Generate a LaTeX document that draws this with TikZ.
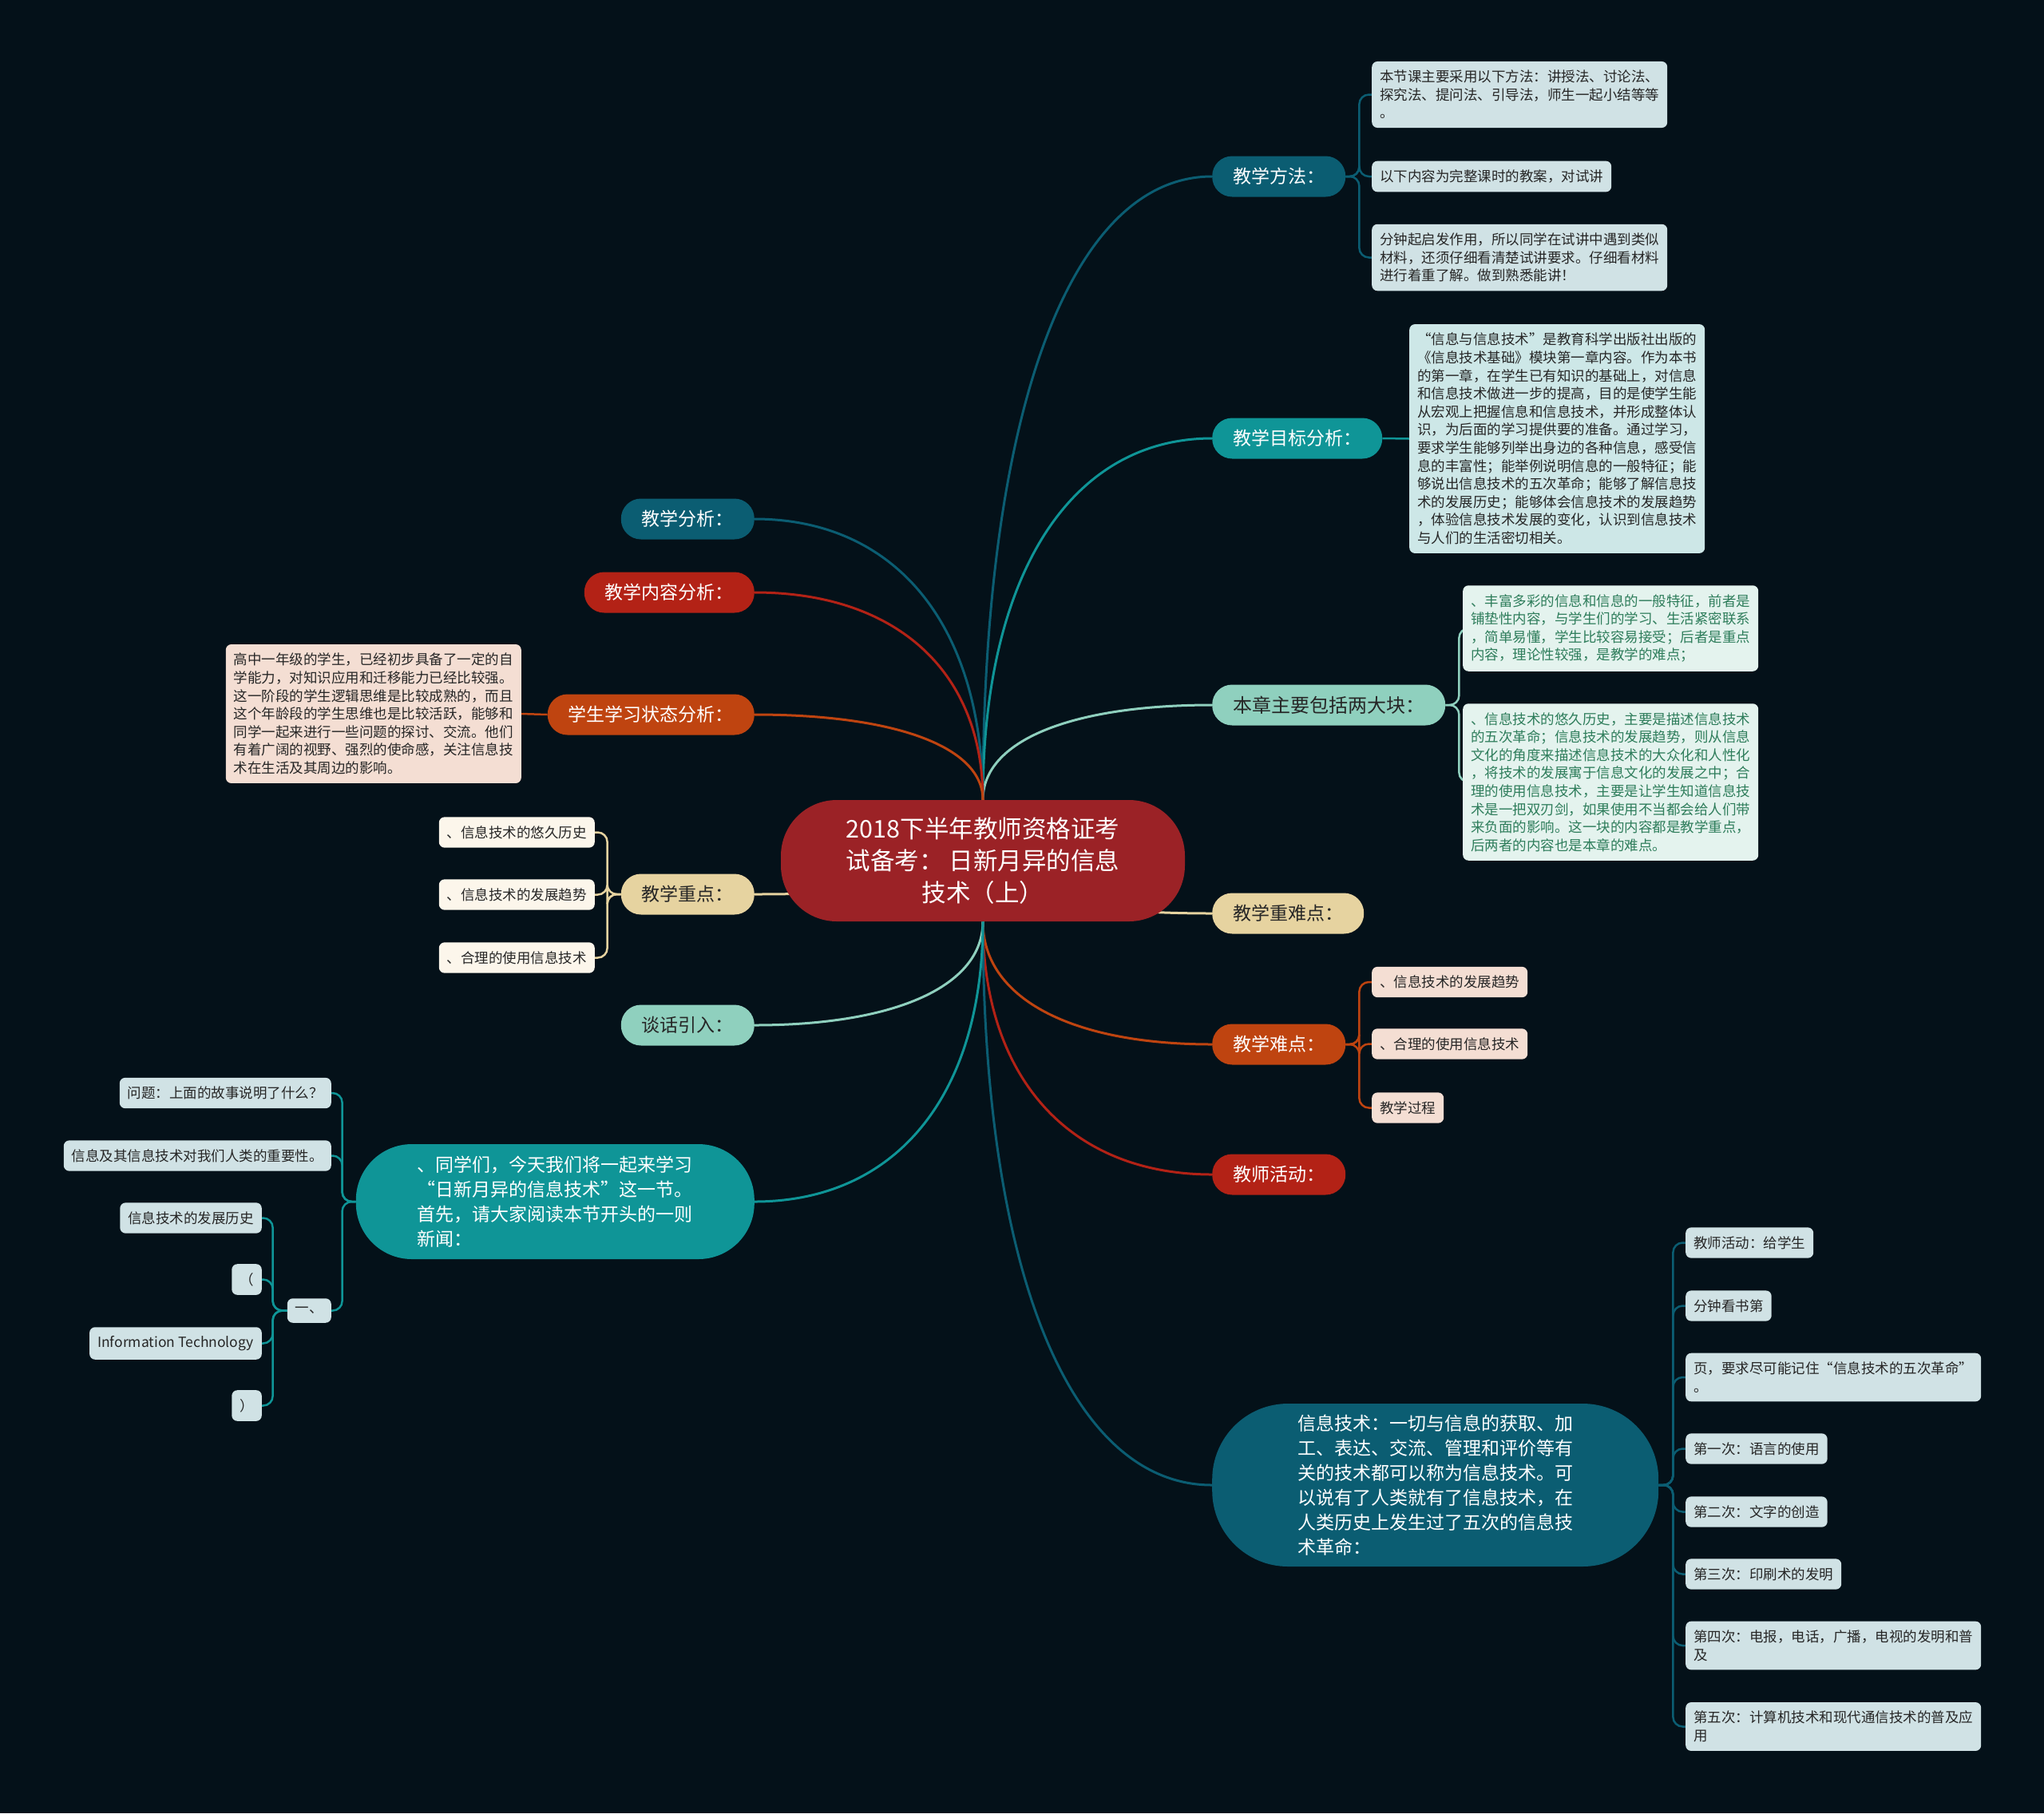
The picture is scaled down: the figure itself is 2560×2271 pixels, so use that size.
\documentclass[tikz,border=0pt]{standalone}
\usepackage{fontspec}
\usepackage{xcolor}
\usepackage{tikz}
\usetikzlibrary{calc,positioning,backgrounds}
\newfontfamily\cjk{Noto Sans CJK SC}
\definecolor{bgdark}{HTML}{041119}
\definecolor{rootred}{HTML}{9B2226}
\definecolor{deepteal}{HTML}{0B5D72}
\definecolor{midteal}{HTML}{0F9597}
\definecolor{mint}{HTML}{8FD0BE}
\definecolor{sand}{HTML}{E6D3A0}
\definecolor{rust}{HTML}{BF4410}
\definecolor{brick}{HTML}{B32216}
\definecolor{leafblue}{HTML}{D0E2E5}
\definecolor{leafcyan}{HTML}{CDE7E7}
\definecolor{leafmint}{HTML}{E4F3EE}
\definecolor{leafgreen}{HTML}{2E7D5B}
\definecolor{leafpeach}{HTML}{F4DED3}
\definecolor{leafcream}{HTML}{FCF6EB}
\definecolor{inkdark}{HTML}{262626}
\tikzset{
  topic/.style={rounded corners=25pt, minimum height=51pt, inner xsep=26pt, inner ysep=0pt,
    text=white, font=\cjk\fontsize{23}{31}\selectfont},
  leaf/.style={rounded corners=7pt, inner xsep=10pt, inner ysep=11pt, align=left,
    text=inkdark, font=\cjk\fontsize{17.5}{22.6}\selectfont},
  link/.style={line width=3pt},
  sublink/.style={line width=2.5pt, rounded corners=12pt},
}

\begin{document}
\begin{tikzpicture}[x=1pt,y=-1pt]
  \begin{scope}[on background layer]
    \fill[bgdark] (0,0) rectangle (2560,2271);
  \end{scope}
  \useasboundingbox (0,0) rectangle (2560,2271);

  % root
  \node[fill=rootred, rounded corners=70pt, minimum width=506pt, minimum height=152pt,
        align=center, text=white, font=\cjk\fontsize{30.5}{40}\selectfont] (root) at (1231,1078)
        {2018下半年教师资格证考\\试备考： 日新月异的信息\\技术（上）};

  % right topics
  \node[topic, fill=deepteal, anchor=west] (method) at (1518,221) {教学方法：};
  \node[topic, fill=midteal, anchor=west] (goal) at (1518,549) {教学目标分析：};
  \node[topic, fill=mint, text=inkdark, anchor=west, font=\cjk\fontsize{24}{31}\selectfont]
        (chapter) at (1518,883) {本章主要包括两大块：};
  \node[topic, fill=sand, text=inkdark, anchor=west] (keyhard) at (1518,1144) {教学重难点：};
  \node[topic, fill=rust, anchor=west] (hard) at (1518,1308) {教学难点：};
  \node[topic, fill=brick, anchor=west] (act) at (1518,1471) {教师活动：};
  \node[topic, fill=deepteal, anchor=west, rounded corners=95pt, minimum width=559pt,
        minimum height=204pt, align=left] (itdef) at (1518,1860)
        {信息技术：一切与信息的获取、加\\工、表达、交流、管理和评价等有\\关的技术都可以称为信息技术。可\\以说有了人类就有了信息技术，在\\人类历史上发生过了五次的信息技\\术革命：};

  % left topics
  \node[topic, fill=deepteal, anchor=east] (analysis) at (945,650) {教学分析：};
  \node[topic, fill=brick, anchor=east] (content) at (945,742) {教学内容分析：};
  \node[topic, fill=rust, anchor=east] (state) at (945,895) {学生学习状态分析：};
  \node[topic, fill=sand, text=inkdark, anchor=east] (key) at (945,1120) {教学重点：};
  \node[topic, fill=mint, text=inkdark, anchor=east] (talk) at (945,1284) {谈话引入：};
  \node[topic, fill=midteal, anchor=east, rounded corners=70pt, minimum width=499pt,
        minimum height=144pt, align=left] (intro) at (945,1505)
        {、同学们，今天我们将一起来学习\\“日新月异的信息技术”这一节。\\首先，请大家阅读本节开头的一则\\新闻：};

  % leaves, right
  \node[leaf, fill=leafblue, anchor=west] (method1) at (1718,118.5)
        {本节课主要采用以下方法：讲授法、讨论法、\\探究法、提问法、引导法，师生一起小结等等\\。};
  \node[leaf, fill=leafblue, anchor=west] (method2) at (1718,221) {以下内容为完整课时的教案，对试讲};
  \node[leaf, fill=leafblue, anchor=west] (method3) at (1718,322.5)
        {分钟起启发作用，所以同学在试讲中遇到类似\\材料，还须仔细看清楚试讲要求。仔细看材料\\进行着重了解。做到熟悉能讲！};
  \node[leaf, fill=leafcyan, anchor=west] (goal1) at (1765,549.5)
        {“信息与信息技术”是教育科学出版社出版的\\《信息技术基础》模块第一章内容。作为本书\\的第一章，在学生已有知识的基础上，对信息\\和信息技术做进一步的提高，目的是使学生能\\从宏观上把握信息和信息技术，并形成整体认\\识，为后面的学习提供要的准备。通过学习，\\要求学生能够列举出身边的各种信息，感受信\\息的丰富性；能举例说明信息的一般特征；能\\够说出信息技术的五次革命；能够了解信息技\\术的发展历史；能够体会信息技术的发展趋势\\，体验信息技术发展的变化，认识到信息技术\\与人们的生活密切相关。};
  \node[leaf, fill=leafmint, text=leafgreen, anchor=west] (chapter1) at (1832,787)
        {、丰富多彩的信息和信息的一般特征，前者是\\铺垫性内容，与学生们的学习、生活紧密联系\\，简单易懂，学生比较容易接受；后者是重点\\内容，理论性较强，是教学的难点；};
  \node[leaf, fill=leafmint, text=leafgreen, anchor=west] (chapter2) at (1832,979.5)
        {、信息技术的悠久历史，主要是描述信息技术\\的五次革命；信息技术的发展趋势，则从信息\\文化的角度来描述信息技术的大众化和人性化\\，将技术的发展寓于信息文化的发展之中；合\\理的使用信息技术，主要是让学生知道信息技\\术是一把双刃剑，如果使用不当都会给人们带\\来负面的影响。这一块的内容都是教学重点，\\后两者的内容也是本章的难点。};
  \node[leaf, fill=leafpeach, anchor=west] (hard1) at (1718,1230) {、信息技术的发展趋势};
  \node[leaf, fill=leafpeach, anchor=west] (hard2) at (1718,1307.5) {、合理的使用信息技术};
  \node[leaf, fill=leafpeach, anchor=west] (hard3) at (1718,1387.5) {教学过程};
  \node[leaf, fill=leafblue, anchor=west] (itdef1) at (2111,1556.5) {教师活动：给学生};
  \node[leaf, fill=leafblue, anchor=west] (itdef2) at (2111,1635.5) {分钟看书第};
  \node[leaf, fill=leafblue, anchor=west] (itdef3) at (2111,1725) {页，要求尽可能记住“信息技术的五次革命”\\。};
  \node[leaf, fill=leafblue, anchor=west] (itdef4) at (2111,1814.5) {第一次：语言的使用};
  \node[leaf, fill=leafblue, anchor=west] (itdef5) at (2111,1893.5) {第二次：文字的创造};
  \node[leaf, fill=leafblue, anchor=west] (itdef6) at (2111,1971.5) {第三次：印刷术的发明};
  \node[leaf, fill=leafblue, anchor=west] (itdef7) at (2111,2061) {第四次：电报，电话，广播，电视的发明和普\\及};
  \node[leaf, fill=leafblue, anchor=west] (itdef8) at (2111,2162.5) {第五次：计算机技术和现代通信技术的普及应\\用};

  % leaves, left
  \node[leaf, fill=leafpeach, anchor=east] (state1) at (653,894)
        {高中一年级的学生，已经初步具备了一定的自\\学能力，对知识应用和迁移能力已经比较强。\\这一阶段的学生逻辑思维是比较成熟的，而且\\这个年龄段的学生思维也是比较活跃，能够和\\同学一起来进行一些问题的探讨、交流。他们\\有着广阔的视野、强烈的使命感，关注信息技\\术在生活及其周边的影响。};
  \node[leaf, fill=leafcream, anchor=east] (key1) at (745,1042.5) {、信息技术的悠久历史};
  \node[leaf, fill=leafcream, anchor=east] (key2) at (745,1120.5) {、信息技术的发展趋势};
  \node[leaf, fill=leafcream, anchor=east] (key3) at (745,1199.5) {、合理的使用信息技术};
  \node[leaf, fill=leafblue, anchor=east] (intro1) at (415,1369) {问题：上面的故事说明了什么？};
  \node[leaf, fill=leafblue, anchor=east] (intro2) at (415,1447.5) {信息及其信息技术对我们人类的重要性。};
  \node[leaf, fill=leafblue, anchor=east] (intro3) at (415,1641.5) {一、};
  \node[leaf, fill=leafblue, anchor=east] (sub1) at (328,1525.5) {信息技术的发展历史};
  \node[leaf, fill=leafblue, anchor=east] (sub2) at (328,1602.5) {（};
  \node[leaf, fill=leafblue, anchor=east] (sub3) at (328,1682.5) {Information Technology};
  \node[leaf, fill=leafblue, anchor=east] (sub4) at (328,1760.5) {）};

  % connectors
  \begin{scope}[on background layer]
    \foreach \t/\a/\c in {method/north/deepteal, goal/north/midteal, chapter/north/mint,
                          keyhard/center/sand, hard/south/rust, act/south/brick, itdef/south/deepteal}
      \draw[link,\c] let \p1=(root.\a), \p2=(\t.west) in
        (\p1) .. controls ($(\p1)!.62!(\x1,\y2)$) and ($(\p2)!.62!(\x1,\y2)$) .. (\p2);
    \foreach \t/\a/\c in {analysis/north/deepteal, content/north/brick, state/north/rust,
                          key/center/sand, talk/south/mint, intro/south/midteal}
      \draw[link,\c] let \p1=(root.\a), \p2=(\t.east) in
        (\p1) .. controls ($(\p1)!.62!(\x1,\y2)$) and ($(\p2)!.62!(\x1,\y2)$) .. (\p2);

    \foreach \k in {1,2,3}
      \draw[sublink,deepteal] (method.east) -- ++(17,0) |- (method\k.west);
    \draw[sublink,midteal] (goal.east) -- (goal1.west);
    \foreach \k in {1,2}
      \draw[sublink,mint] (chapter.east) -- ++(17,0) |- (chapter\k.west);
    \foreach \k in {1,2,3}
      \draw[sublink,rust] (hard.east) -- ++(17,0) |- (hard\k.west);
    \foreach \k in {1,...,8}
      \draw[sublink,deepteal] (itdef.east) -- ++(18,0) |- (itdef\k.west);

    \draw[sublink,rust] (state.west) -- (state1.east);
    \foreach \k in {1,2,3}
      \draw[sublink,sand] (key.west) -- ++(-17,0) |- (key\k.east);
    \foreach \k in {1,2,3}
      \draw[sublink,midteal] (intro.west) -- ++(-17,0) |- (intro\k.east);
    \foreach \k in {1,...,4}
      \draw[sublink,midteal] (intro3.west) -- ++(-18,0) |- (sub\k.east);
  \end{scope}
\end{tikzpicture}
\end{document}
